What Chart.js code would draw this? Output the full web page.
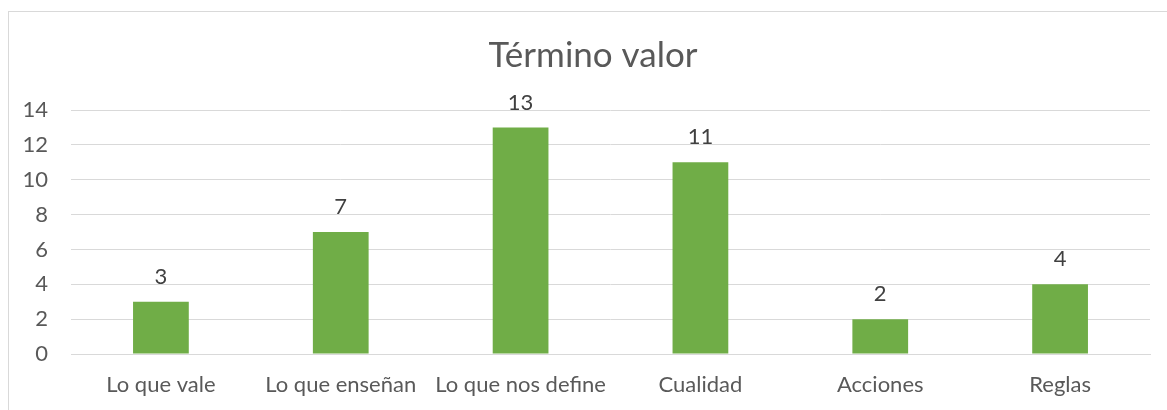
<!DOCTYPE html>
<html>
<head>
<meta charset="utf-8">
<script src="https://cdn.jsdelivr.net/npm/chart.js@4"></script>
<style>
    html, body { margin: 0; padding: 0; background: #fff; }
    #wrap { position: relative; width: 1167px; height: 410px; }
    #frame { position: absolute; left: 8px; top: 11px; right: -2px; bottom: -2px; border-top: 1px solid #D9D9D9; border-left: 1px solid #D9D9D9; }
    canvas { position: absolute; left: 0; top: 0; }
</style>
</head>
<body>
<div id="wrap">
    <div id="frame"></div>
    <canvas id="chart" width="1167" height="410"></canvas>
</div>
<script>
const categories = ['Lo que vale', 'Lo que enseñan', 'Lo que nos define', 'Cualidad', 'Acciones', 'Reglas'];
const values = [3, 7, 13, 11, 2, 4];
const chartTitle = 'Término valor';
const yTicks = [0, 2, 4, 6, 8, 10, 12, 14];

// petit plugin pour afficher les valeurs au-dessus des barres
const valueLabels = {
    id: 'valueLabels',
    afterLayout(chart) {
        // recentrer le titre sur le cadre
        if (chart.titleBlock) chart.titleBlock.left = 36;
    },
    afterDatasetsDraw(chart) {
        const ctx = chart.ctx;
        ctx.save();
        ctx.font = '22px Lato';
        ctx.fillStyle = '#404040';
        ctx.textAlign = 'center';
        ctx.textBaseline = 'middle';
        chart.getDatasetMeta(0).data.forEach((bar, i) => {
            ctx.fillText(values[i], bar.x, bar.y - 25);
        });
        ctx.restore();
    }
};

new Chart(document.getElementById('chart'), {
    type: 'bar',
    data: {
        labels: categories,
        datasets: [{
            data: values,
            backgroundColor: '#70AD47',
            barPercentage: 0.31,
            categoryPercentage: 1
        }]
    },
    options: {
        responsive: false,
        animation: false,
        layout: { padding: { left: 0, right: 17, top: 0, bottom: 0 } },
        plugins: {
            legend: { display: false },
            tooltip: { enabled: false },
            title: {
                display: true,
                text: chartTitle,
                color: '#595959',
                font: { family: 'Lato', size: 35, weight: 'normal', lineHeight: 1.2 },
                padding: { top: 35, bottom: 33 }
            }
        },
        scales: {
            x: {
                grid: { display: false, drawTicks: false },
                border: { color: '#D9D9D9', width: 1 },
                ticks: { color: '#595959', font: { family: 'Lato', size: 22 }, padding: 18, maxRotation: 0 },
                afterFit(scale) { scale.height = 56; }
            },
            y: {
                min: 0,
                max: 14,
                afterBuildTicks(scale) { scale.ticks = yTicks.map(v => ({ value: v })); },
                grid: { color: '#D9D9D9', lineWidth: 1, drawTicks: false },
                border: { display: false },
                ticks: { color: '#595959', font: { family: 'Lato', size: 22 }, padding: 23 },
                afterFit(scale) { scale.width = 71; }
            }
        }
    },
    plugins: [valueLabels]
});
</script>
</body>
</html>
